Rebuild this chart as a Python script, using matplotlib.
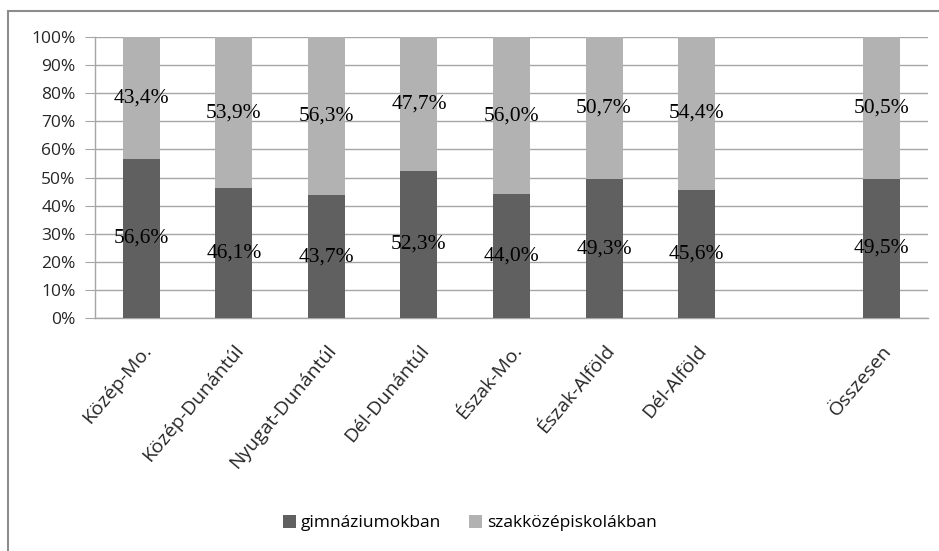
import numpy as np
import matplotlib.pyplot as plt
from matplotlib.patches import Rectangle

regions = ['Közép-Mo.', 'Közép-Dunántúl', 'Nyugat-Dunántúl', 'Dél-Dunántúl',
           'Észak-Mo.', 'Észak-Alföld', 'Dél-Alföld', 'Összesen']
gimn = [56.6, 46.1, 43.7, 52.3, 44.0, 49.3, 45.6, 49.5]
szakk = [43.4, 53.9, 56.3, 47.7, 56.0, 50.7, 54.4, 50.5]
series_names = ['gimnáziumokban', 'szakközépiskolákban']

# the total sits one empty slot after the regions
xpos = np.array([0, 1, 2, 3, 4, 5, 6, 8])

dark = '#606060'
light = '#b2b2b2'
grid_col = '#a6a6a6'
txt_col = '#262626'

fig = plt.figure(figsize=(9.39, 5.51), dpi=100)
fig.patches.append(Rectangle((8 / 939, -0.1), 1.1, 1 - 11 / 551 + 0.1,
                             transform=fig.transFigure, fill=False,
                             edgecolor='#8c8c8c', linewidth=1.5))
ax = fig.add_axes([95 / 939, (551 - 318) / 551, (928 - 95) / 939, 281 / 551])

b1 = ax.bar(xpos, gimn, width=0.4, color=dark, label=series_names[0], zorder=3)
b2 = ax.bar(xpos, szakk, width=0.4, bottom=gimn, color=light,
            label=series_names[1], zorder=3)

for rects, vals in ((b1, gimn), (b2, szakk)):
    for r, v in zip(rects, vals):
        ax.text(r.get_x() + r.get_width() / 2, r.get_y() + r.get_height() / 2,
                f'{v:.1f}%'.replace('.', ','), ha='center', va='center',
                fontsize=15.5, family='Liberation Serif', color='black', zorder=4)

ax.set_xlim(-0.5, 8.5)
ax.set_ylim(0, 100)
ax.set_yticks(np.arange(0, 101, 10))
ax.set_yticklabels([f'{v}%' for v in range(0, 101, 10)], fontsize=12.5,
                   family='Open Sans', color=txt_col)
ax.set_xticks(xpos)
ax.set_xticklabels(regions, rotation=50, ha='right', rotation_mode='anchor',
                   fontsize=14, family='Open Sans', color=txt_col)
ax.tick_params(axis='x', length=0, pad=17)
ax.tick_params(axis='y', length=7, color=grid_col, pad=7)
ax.yaxis.grid(True, color=grid_col, linewidth=1)
ax.set_axisbelow(True)
for s in ['top', 'right']:
    ax.spines[s].set_visible(False)
for s in ['left', 'bottom']:
    ax.spines[s].set_color(grid_col)
    ax.spines[s].set_linewidth(1)

fig.legend(handles=[b1, b2], labels=series_names, loc='center',
           bbox_to_anchor=(470 / 939, 1 - 523 / 551), ncol=2, frameon=False,
           handlelength=0.75, handleheight=0.75, handletextpad=0.3,
           columnspacing=1.6, prop={'family': 'Open Sans', 'size': 12.5})

fig.savefig('out.png', dpi=100)
